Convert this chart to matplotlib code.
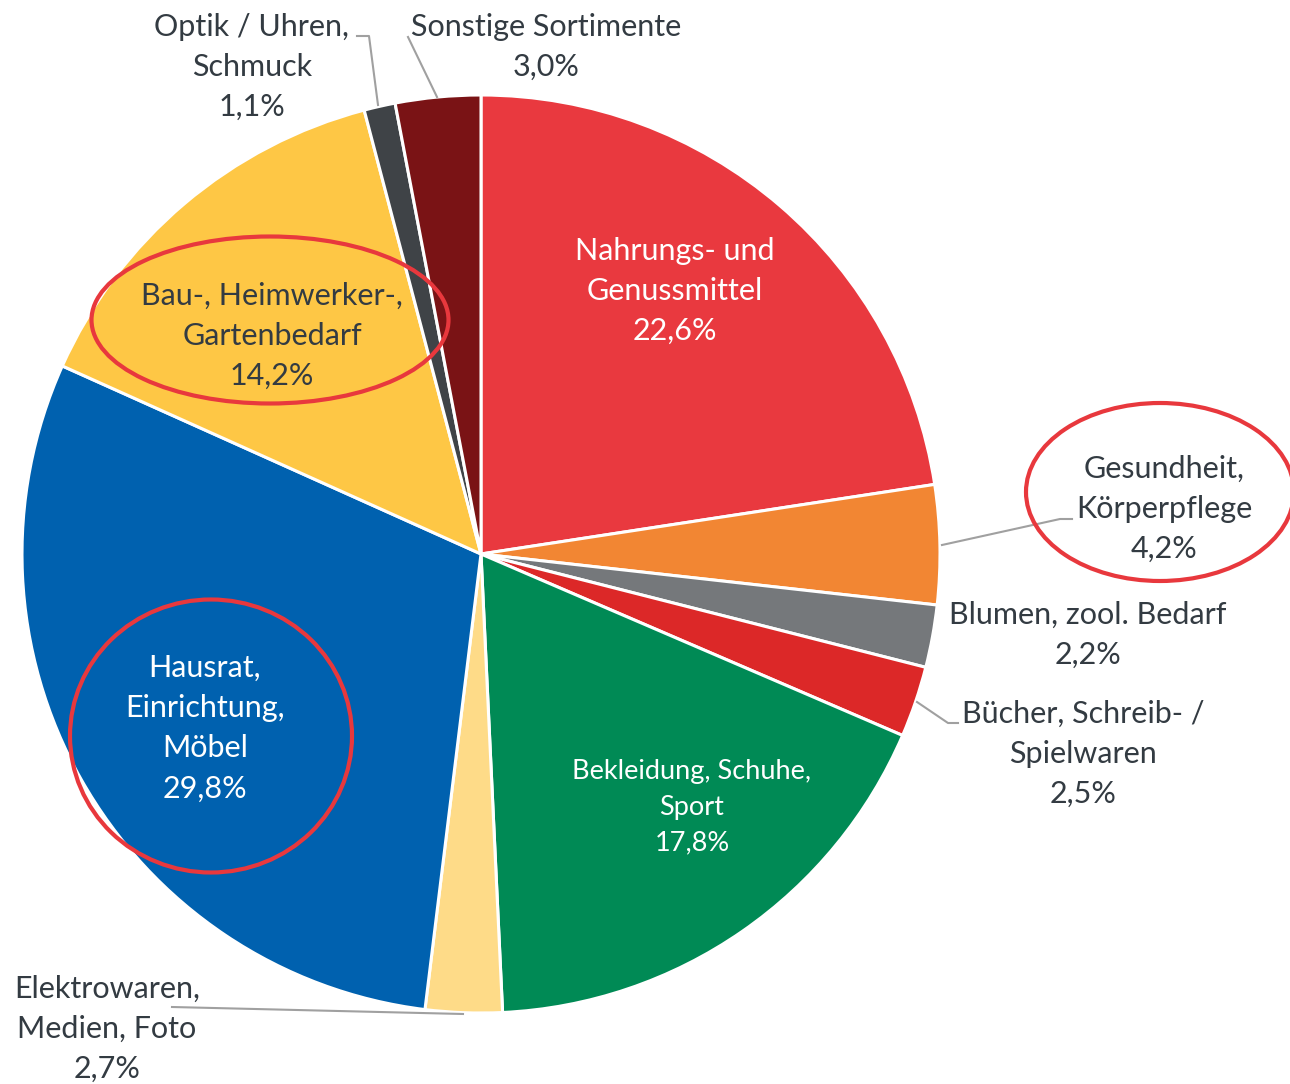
import matplotlib
matplotlib.use("Agg")
import matplotlib.pyplot as plt
from matplotlib.patches import Ellipse

plt.rcParams['font.family'] = ['Lato', 'DejaVu Sans']

# Sortimente, Anteile (%) im Uhrzeigersinn ab 12 Uhr
labels = ['Nahrungs- und\nGenussmittel', 'Gesundheit,\nKörperpflege', 'Blumen, zool. Bedarf',
          'Bücher, Schreib- /\nSpielwaren', 'Bekleidung, Schuhe,\nSport', 'Elektrowaren,\nMedien, Foto',
          'Hausrat,\nEinrichtung,\nMöbel', 'Bau-, Heimwerker-,\nGartenbedarf', 'Optik / Uhren,\nSchmuck',
          'Sonstige Sortimente']
values = [22.6, 4.2, 2.2, 2.5, 17.8, 2.7, 29.8, 14.2, 1.1, 3.0]
colors = ['#E9393F', '#F28633', '#75787B', '#DC2828', '#008A55', '#FEDB88',
          '#0061AF', '#FEC745', '#3F4347', '#7A1315']

# Label-Positionen (Pixel), Textfarbe, Schriftgröße
label_pos = [(675, 291), (1164, 509), (1088, 635), (1083, 754), (692, 807), (107, 1029),
             (205, 728), (272, 336), (252, 67), (546, 47)]
label_col = ['white', '#333B42', '#333B42', '#333B42', 'white', '#333B42',
             'white', '#333B42', '#333B42', '#333B42']
label_size = [22, 22, 22, 22, 19.5, 22, 22, 22, 22, 22]

# Führungslinien
leaders = {
    'Gesundheit': [(942, 545), (1060, 519), (1072, 519)],
    'Buecher': [(917, 702), (948, 723), (958, 723)],
    'Elektro': [(463, 1014), (172, 1007)],
    'Optik': [(378, 105), (369, 36), (357, 36)],
    'Sonstige': [(437, 97), (408, 37)],
}

# rote Markierungen (Mitte x, Mitte y, Breite, Höhe)
marks = [(270, 320, 357, 167), (1160, 492, 268, 178), (211, 736, 282, 273)]

fig = plt.figure(figsize=(12.9, 10.84), dpi=100)
ax = fig.add_axes([0, 0, 1, 1])

ax.pie(values, colors=colors, startangle=-90, counterclock=True,
       center=(481, 554), radius=459, frame=True,
       wedgeprops=dict(edgecolor='white', linewidth=2.2))
ax.set_xlim(0, 1290)
ax.set_ylim(1084, 0)
ax.set_aspect('equal')
ax.axis('off')

for pts in leaders.values():
    xs = [p[0] for p in pts]
    ys = [p[1] for p in pts]
    ax.plot(xs, ys, color='#A0A0A0', lw=1.5, zorder=3)

for lab, v, (x, y), c, s in zip(labels, values, label_pos, label_col, label_size):
    txt = lab + '\n' + ('%.1f' % v).replace('.', ',') + '%'
    ax.text(x, y, txt, ha='center', va='center', color=c, fontsize=s,
            linespacing=1.53, zorder=4)

for cx, cy, w, h in marks:
    ax.add_patch(Ellipse((cx, cy), w, h, fill=False, edgecolor='#E8383D', lw=3, zorder=5))

plt.savefig('out.png', dpi=100)
